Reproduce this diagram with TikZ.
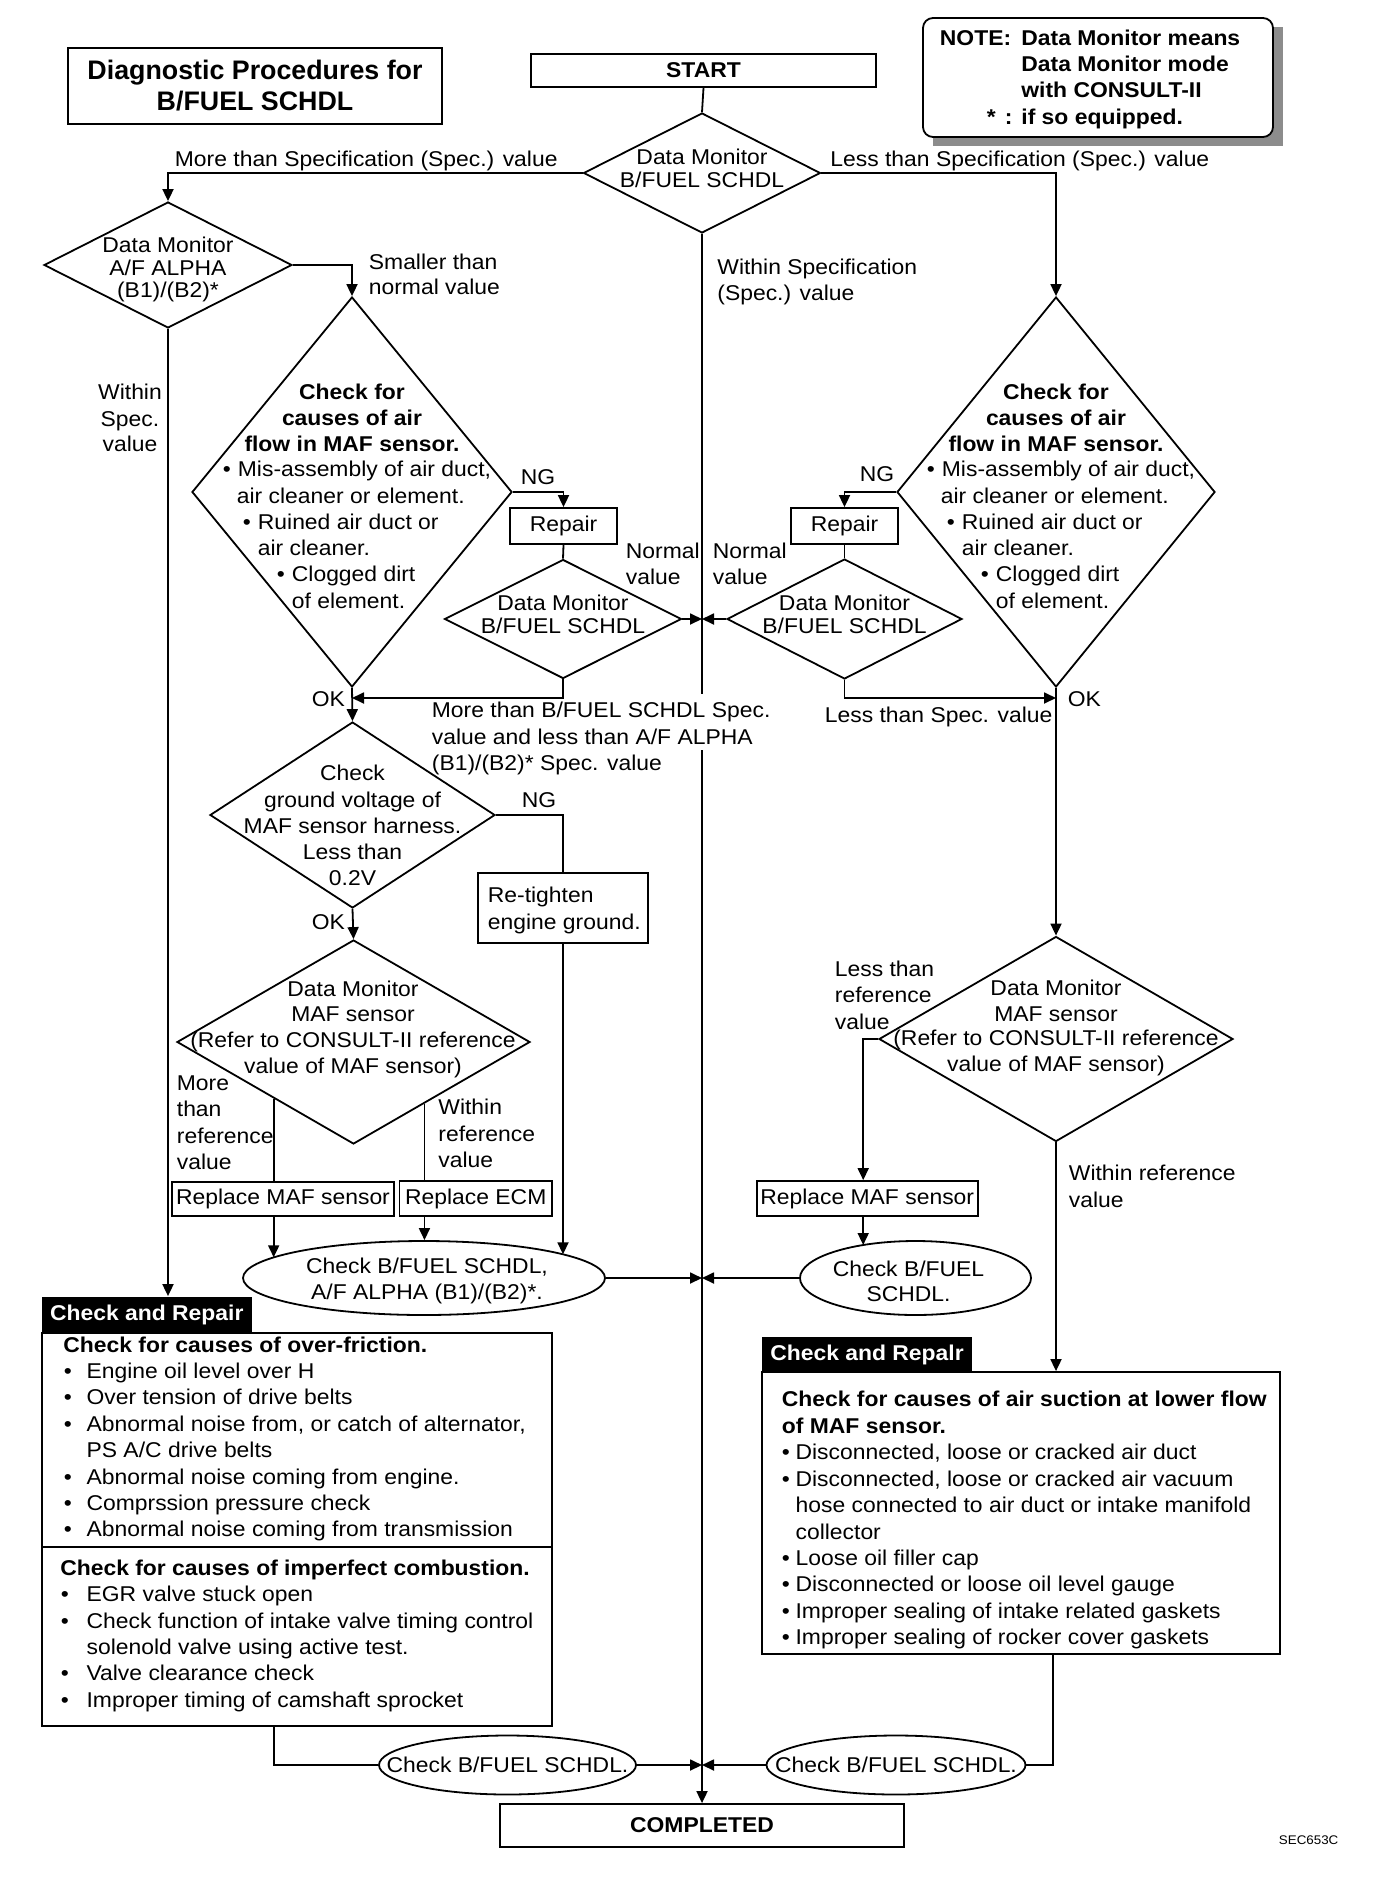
\documentclass[tikz,border=0pt]{standalone}
\usepackage{fontspec}
\setmainfont{Liberation Sans}[FakeStretch=1.07]
\newfontfamily\titlefont{Liberation Sans}
\usetikzlibrary{shapes.geometric,arrows.meta,calc,patterns}
\newcounter{tlc}
\newcommand\myfs{\fontsize{21.4}{26.3}\selectfont}
\newcommand\tln[4][]{\stepcounter{tlc}\node[txt,anchor=base west,#1] (tl\arabic{tlc}) at ({#2},{#3+7.5}) {#4};}
\newcommand\MAFblock[2]{%
 \tln[bftxt,ctr]{#1}{#2-100}{Check for}
 \tln[bftxt,ctr]{#1}{#2-74}{causes of air}
 \tln[bftxt,ctr]{#1}{#2-48}{flow in MAF sensor.}
 \tln{#1-130}{#2-23}{•}
 \tln{#1-115}{#2-23}{Mis-assembly of air duct,}
 \tln{#1-116}{#2+4}{air cleaner or element.}
 \tln{#1-110}{#2+30}{•}
 \tln{#1-95}{#2+30}{Ruined air duct or}
 \tln{#1-95}{#2+56}{air cleaner.}
 \tln{#1-76}{#2+82}{•}
 \tln{#1-61}{#2+82}{Clogged dirt}
 \tln{#1-61}{#2+109}{of element.}
}
\tikzset{
 txt/.style={font=\myfs, inner sep=0pt},
 bftxt/.style={font=\myfs\bfseries},
 ctr/.style={anchor=base},
 box/.style={draw, rectangle, inner sep=0pt, inner xsep=2pt, font=\myfs},
 dia/.style={draw, diamond, inner sep=0pt},
 ell/.style={draw, ellipse, inner sep=0pt},
 arr/.style={-{Triangle[length=12pt,width=11pt]}},
 hdr/.style={fill=black, text=white, font=\myfs\bfseries, inner sep=0pt, rectangle},
}
\begin{document}
\begin{tikzpicture}[x=1pt,y=-1pt,line width=1.8pt]
\fill[white] (0,0) rectangle (1392,1878);
\useasboundingbox (0,0) rectangle (1392,1878);

% ---------- header area
\node[box,minimum width=374pt,minimum height=76pt,align=center,
      font=\titlefont\bfseries\fontsize{26.8}{31}\selectfont] (title) at (255,86)
      {Diagnostic Procedures for\\B/FUEL SCHDL};
\node[box,minimum width=345pt,minimum height=33pt,font=\myfs\bfseries] (start) at (703.5,70.5) {START};

\node[fill=black!45,minimum width=350pt,minimum height=119pt,inner sep=0pt] (noteshadow) at (1107.5,87) {};
\node[draw,rounded corners=10pt,fill=white,minimum width=350pt,minimum height=119pt,inner sep=0pt] (note) at (1098,77.5) {};
\tln[bftxt]{939}{38}{NOTE:}
\tln[bftxt]{1020.5}{38}{Data Monitor means}
\tln[bftxt]{1020.5}{64}{Data Monitor mode}
\tln[bftxt]{1020.5}{90}{with CONSULT-II}
\tln[bftxt]{986}{117}{*}
\tln[bftxt]{1004}{117}{:}
\tln[bftxt]{1020.5}{117}{if so equipped.}

% ---------- shapes
\node[dia,minimum width=237pt,minimum height=120pt] (d0) at (702,173) {};
\node[dia,minimum width=248pt,minimum height=126pt] (d1) at (168,265) {};
\node[dia,minimum width=320pt,minimum height=390pt] (dL) at (352,492) {};
\node[dia,minimum width=318pt,minimum height=390pt] (dR) at (1056,492) {};
\node[box,minimum width=107pt,minimum height=36pt] (repL) at (563.5,526) {Repair};
\node[box,minimum width=107pt,minimum height=36pt] (repR) at (844.5,526) {Repair};
\node[dia,minimum width=237pt,minimum height=119pt] (dsL) at (563,619) {};
\node[dia,minimum width=235pt,minimum height=120pt] (dsR) at (844.5,619) {};
\node[dia,minimum width=285pt,minimum height=186pt] (dG) at (352.5,815) {};
\node[box,minimum width=170pt,minimum height=70pt] (rt) at (563,908) {};
\node[dia,minimum width=353pt,minimum height=204pt] (dML) at (353.5,1042) {};
\node[dia,minimum width=354pt,minimum height=205pt] (dMR) at (1056,1039) {};
\node[box,minimum width=222pt,minimum height=34pt] (rmL) at (283,1199) {Replace MAF sensor};
\node[box,minimum width=152.5pt,minimum height=35pt] (recm) at (475.75,1198.5) {Replace ECM};
\node[box,minimum width=221pt,minimum height=35pt] (rmR) at (867.2,1198.5) {Replace MAF sensor};
\node[ell,minimum width=362pt,minimum height=74pt] (e1) at (424,1278) {};
\node[ell,minimum width=231pt,minimum height=74pt] (e2) at (915.5,1278) {};
\node[box,minimum width=510pt,minimum height=393pt] (bL) at (297,1529.5) {};
\node[hdr,minimum width=210.5pt,minimum height=36pt] (hL) at (146.75,1315) {Check and Repair};
\node[box,minimum width=518pt,minimum height=282pt] (bR) at (1021,1513) {};
\node[hdr,minimum width=210pt,minimum height=35pt] (hR) at (867,1354.5) {Check and Repalr};
\node[ell,minimum width=257pt,minimum height=59pt] (e3) at (507.5,1765) {};
\node[ell,minimum width=259pt,minimum height=59pt] (e4) at (896,1765) {};
\node[box,minimum width=404.5pt,minimum height=43pt,font=\myfs\bfseries] (done) at (702,1825.5) {COMPLETED};

\coordinate (ydiv) at (0,1547);
\draw (bL.west |- ydiv) -- (bL.east |- ydiv);

% ---------- connectors
\draw (start.south) -- (d0.north);
\draw[arr] (d0.west) -| (d1.north);
\draw[arr] (d0.east) -| (dR.north);
\draw[arr] (d0.south) -- (done.north);
\draw[arr] (d1.east) -| (dL.north);
\draw[arr] (d1.south) -- (d1.south |- hL.north);
\draw[arr] (dL.east) -| (repL.north);
\draw (repL.south) -- (dsL.north);
\draw[arr] (dsL.east) -- (dsL.east -| d0.south);
\draw[arr] (dR.west) -| (repR.north);
\draw (repR.south) -- (dsR.north);
\draw[arr] (dsR.west) -- (dsR.west -| d0.south);

% label that masks the centre line
\tln[fill=white,inner ysep=8pt]{431}{710}{More than B/FUEL SCHDL Spec.}
\tln[fill=white,inner ysep=5pt]{431}{737}{value and less than A/F ALPHA}
\tln{431}{763}{(B1)/(B2)* Spec. value}

\coordinate (yj) at (0,698);
\coordinate (jL) at (dL.south |- yj);
\coordinate (jR) at (dR.south |- yj);
\draw[arr] (dsL.south) |- (jL);
\draw[arr] (dsR.south) |- (jR);
\draw[arr] (dL.south) -- (dG.north);
\draw[arr] (dR.south) -- (dMR.north);
\draw (dG.east) -| (rt.north);
\coordinate (e1b) at ($(e1.center)+(0,-23.7)$);
\draw[arr] (rt.south) -- (rt.south |- e1b);
\draw[arr] (dG.south) -- (dML.north);
\coordinate (pL) at ($(dML.west)!0.55!(dML.south)$);
\coordinate (pR) at ($(dML.east)!0.6!(dML.south)$);
\draw (pL) -- (pL |- rmL.north);
\draw (pR) -- (pR |- recm.north);
\coordinate (e1a) at ($(e1.center)+(0,-20.7)$);
\draw[arr] (pL |- rmL.south) -- (pL |- e1a);
\draw[arr] (pR |- recm.south) -- (pR |- e1.north);
\draw[arr] (e1.east) -- (e1.east -| d0.south);
\coordinate (rmRn) at ($(rmR.north)+(-4,0)$);
\coordinate (rmRs) at ($(rmR.south)+(-4,0)$);
\coordinate (e2a) at ($(e2.center)+(0,-33)$);
\draw[arr] (dMR.west) -| (rmRn);
\draw[arr] (rmRs) -- (rmRs |- e2a);
\draw[arr] (e2.west) -- (e2.west -| d0.south);
\draw[arr] (dMR.south) -- (dMR.south |- bR.north);
\draw (pL |- bL.south) |- (e3.west);
\draw[arr] (e3.east) -- (e3.east -| d0.south);
\coordinate (bRo) at ($(bR.south)+(32,0)$);
\draw (bRo) |- (e4.east);
\draw[arr] (e4.west) -- (e4.west -| d0.south);

% ---------- labels and texts
\tln{174}{159}{More than Specification (Spec.) value}
\tln{829.5}{159}{Less than Specification (Spec.) value}
\tln{716.5}{267}{Within Specification}
\tln{716.5}{293}{(Spec.) value}
\tln[ctr]{702}{157}{Data Monitor}
\tln[ctr]{702}{180}{B/FUEL SCHDL}
\tln[ctr]{168}{245}{Data Monitor}
\tln[ctr]{168}{268}{A/F ALPHA}
\tln[ctr]{168}{290}{(B1)/(B2)*}
\tln{368}{262}{Smaller than}
\tln{368}{287}{normal value}
\tln[ctr]{130}{392}{Within}
\tln[ctr]{130}{419}{Spec.}
\tln[ctr]{130}{444}{value}
\MAFblock{352}{492}
\MAFblock{1056}{492}
\tln{520}{477}{NG}
\tln{859}{474}{NG}
\tln[ctr]{563}{603}{Data Monitor}
\tln[ctr]{563}{626}{B/FUEL SCHDL}
\tln[ctr]{844.5}{603}{Data Monitor}
\tln[ctr]{844.5}{626}{B/FUEL SCHDL}
\tln{625}{551}{Normal}
\tln{625}{577}{value}
\tln{712}{551}{Normal}
\tln{712}{577}{value}
\tln{311}{699}{OK}
\tln{1067}{699}{OK}
\tln{824}{715}{Less than Spec. value}

\tln[ctr]{352.5}{773}{Check}
\tln[ctr]{352.5}{800}{ground voltage of}
\tln[ctr]{352.5}{826}{MAF sensor harness.}
\tln[ctr]{352.5}{852}{Less than}
\tln[ctr]{352.5}{878}{0.2V}
\tln{521}{800}{NG}
\tln{311}{922}{OK}
\tln{487}{895}{Re-tighten}
\tln{487}{922}{engine ground.}

\tln[ctr]{353}{989}{Data Monitor}
\tln[ctr]{353}{1014}{MAF sensor}
\tln[ctr]{353}{1040}{(Refer to CONSULT-II reference}
\tln[ctr]{353}{1066}{value of MAF sensor)}
\tln[ctr]{1056}{988}{Data Monitor}
\tln[ctr]{1056}{1014}{MAF sensor}
\tln[ctr]{1056}{1038}{(Refer to CONSULT-II reference}
\tln[ctr]{1056}{1064}{value of MAF sensor)}
\tln{176}{1083}{More}
\tln{176}{1109}{than}
\tln{176}{1136}{reference}
\tln{176}{1162}{value}
\tln{437.5}{1107}{Within}
\tln{437.5}{1134}{reference}
\tln{437.5}{1160}{value}
\tln{834}{969}{Less than}
\tln{834}{995}{reference}
\tln{834}{1022}{value}
\tln{1068}{1173}{Within reference}
\tln{1068}{1200}{value}

\tln[ctr]{427}{1266}{Check B/FUEL SCHDL,}
\tln[ctr]{427}{1292}{A/F ALPHA (B1)/(B2)*.}
\tln[ctr]{908.5}{1269}{Check B/FUEL}
\tln[ctr]{908.5}{1294}{SCHDL.}

% left check and repair box
\tln[bftxt]{62.5}{1345}{Check for causes of over-friction.}
\tln{63}{1371}{•}\tln{85.7}{1371}{Engine oil level over H}
\tln{63}{1397}{•}\tln{85.7}{1397}{Over tension of drive belts}
\tln{63}{1424}{•}\tln{85.7}{1424}{Abnormal noise from, or catch of alternator,}
\tln{85.7}{1450}{PS A/C drive belts}
\tln{63}{1477}{•}\tln{85.7}{1477}{Abnormal noise coming from engine.}
\tln{63}{1503}{•}\tln{85.7}{1503}{Comprssion pressure check}
\tln{63}{1529}{•}\tln{85.7}{1529}{Abnormal noise coming from transmission}
\tln[bftxt]{59.4}{1568}{Check for causes of imperfect combustion.}
\tln{60}{1594}{•}\tln{85.7}{1594}{EGR valve stuck open}
\tln{60}{1621}{•}\tln{85.7}{1621}{Check function of intake valve timing control}
\tln{85.7}{1647}{solenold valve using active test.}
\tln{60}{1673}{•}\tln{85.7}{1673}{Valve clearance check}
\tln{60}{1700}{•}\tln{85.7}{1700}{Improper timing of camshaft sprocket}

% right check and repair box
\tln[bftxt]{781}{1399}{Check for causes of air suction at lower flow}
\tln[bftxt]{781}{1426}{of MAF sensor.}
\tln{781}{1452}{•}\tln{794.7}{1452}{Disconnected, loose or cracked air duct}
\tln{781}{1479}{•}\tln{794.7}{1479}{Disconnected, loose or cracked air vacuum}
\tln{794.7}{1505}{hose connected to air duct or intake manifold}
\tln{794.7}{1532}{collector}
\tln{781}{1558}{•}\tln{794.7}{1558}{Loose oil filler cap}
\tln{781}{1584}{•}\tln{794.7}{1584}{Disconnected or loose oil level gauge}
\tln{781}{1611}{•}\tln{794.7}{1611}{Improper sealing of intake related gaskets}
\tln{781}{1637}{•}\tln{794.7}{1637}{Improper sealing of rocker cover gaskets}

\tln[ctr]{507.5}{1765}{Check B/FUEL SCHDL.}
\tln[ctr]{896}{1765}{Check B/FUEL SCHDL.}

\tln[font=\fontsize{12.5}{14}\selectfont]{1278}{1837}{SEC653C}
\end{tikzpicture}
\end{document}
